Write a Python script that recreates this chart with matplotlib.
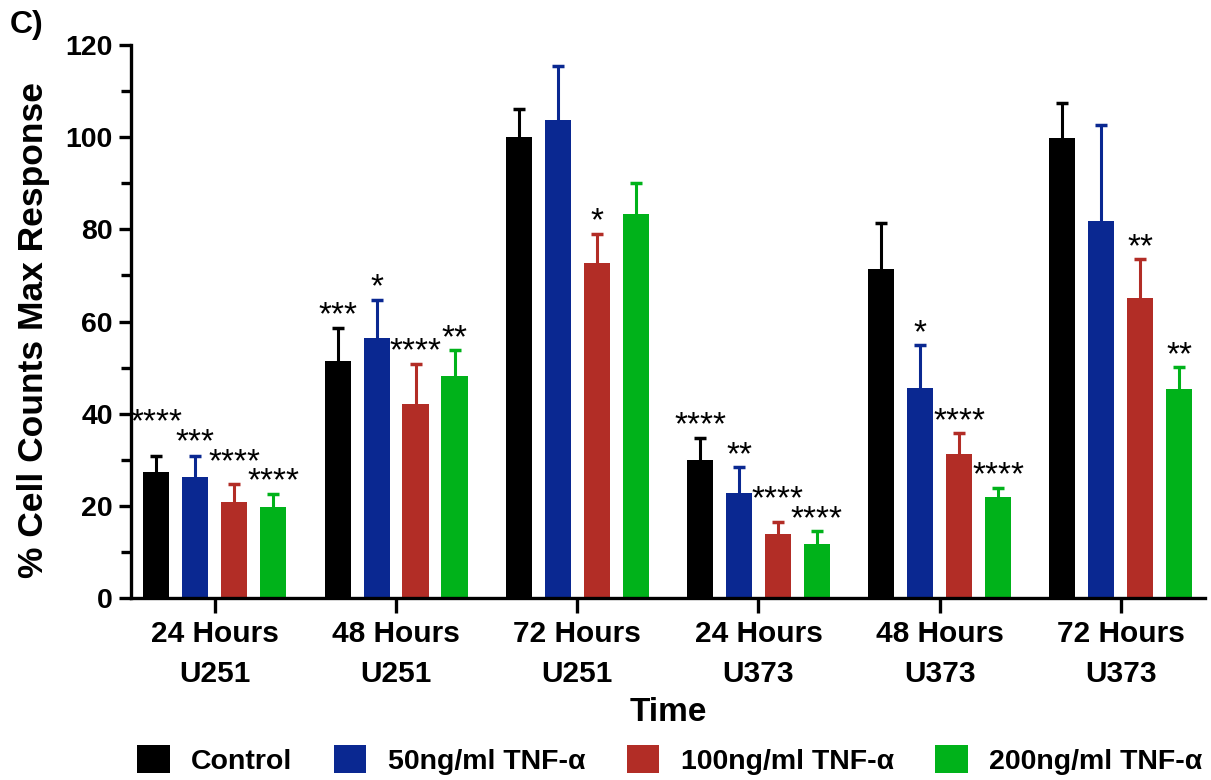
import matplotlib.pyplot as plt
import numpy as np
from matplotlib.ticker import MultipleLocator

plt.rcParams['font.family'] = ['Liberation Sans', 'DejaVu Sans']

# 数据：各组均值与误差（只画上误差）
groups = ['24 Hours\nU251', '48 Hours\nU251', '72 Hours\nU251',
          '24 Hours\nU373', '48 Hours\nU373', '72 Hours\nU373']
series_names = ['Control', '50ng/ml TNF-α', '100ng/ml TNF-α', '200ng/ml TNF-α']
control = [27.3, 51.5, 100.0, 29.9, 71.3, 99.8]
control_err = [3.5, 7.1, 6.1, 4.9, 10.1, 7.7]
tnf50 = [26.3, 56.5, 103.7, 22.8, 45.6, 81.9]
tnf50_err = [4.5, 8.2, 11.8, 5.6, 9.2, 20.7]
tnf100 = [20.8, 42.1, 72.6, 13.9, 31.3, 65.2]
tnf100_err = [3.9, 8.7, 6.4, 2.6, 4.5, 8.3]
tnf200 = [19.8, 48.2, 83.4, 11.7, 22.0, 45.3]
tnf200_err = [2.8, 5.6, 6.7, 2.8, 1.9, 4.8]
stars_control = ['****', '***', '', '****', '', '']
stars_tnf50 = ['***', '*', '', '**', '*', '']
stars_tnf100 = ['****', '****', '*', '****', '****', '**']
stars_tnf200 = ['****', '**', '', '****', '****', '**']

colors = ['#000000', '#0A2891', '#B22D26', '#00B21A']

values = [control, tnf50, tnf100, tnf200]
errors = [control_err, tnf50_err, tnf100_err, tnf200_err]
stars = [stars_control, stars_tnf50, stars_tnf100, stars_tnf200]

fig = plt.figure(figsize=(12.11, 7.8), dpi=100)
ax = fig.add_axes([0.108, 0.2333, 0.887, 0.709])

x = np.arange(len(groups))
pitch = 0.215
width = 0.144
star_off = 0.7    # 星号离误差线顶端的距离
star_step = 4.3   # 相邻星号重叠时抬高的距离

for i in range(4):
    xpos = x + (i - 1.5) * pitch
    ax.bar(xpos, values[i], width=width, color=colors[i], label=series_names[i], zorder=2)
    eb = ax.errorbar(xpos, values[i], yerr=[np.zeros(len(groups)), errors[i]], fmt='none',
                     ecolor=colors[i], elinewidth=2.2, capsize=4.5, capthick=2.5, zorder=1)
    eb[1][0].set_visible(False)  # 去掉下端的帽

# 星号：从右往左放，和右边的重叠就抬高
for j in range(len(groups)):
    prev_y = None
    prev_len = 0
    for i in range(3, -1, -1):
        label = stars[i][j]
        if not label:
            prev_y = None
            continue
        y = values[i][j] + errors[i][j] + star_off
        if prev_y is not None and (len(label) + prev_len) * 0.5 * 0.067 > pitch \
                and abs(y - prev_y) < star_step:
            y = prev_y + star_step
        ax.text(x[j] + (i - 1.5) * pitch, y, label, ha='center', va='baseline', fontsize=24)
        prev_y = y
        prev_len = len(label)

ax.set_xlim(-0.464, len(groups) - 1 + 0.464)
ax.set_ylim(0, 120)
ax.yaxis.set_major_locator(MultipleLocator(20))
ax.yaxis.set_minor_locator(MultipleLocator(10))
ax.set_xticks(x)
ax.set_xticklabels(groups, fontsize=21.5, fontweight='bold', linespacing=1.55)
for lab in ax.get_yticklabels():
    lab.set_fontsize(20.5)
    lab.set_fontweight('bold')

for s in ['top', 'right']:
    ax.spines[s].set_visible(False)
for s in ['left', 'bottom']:
    ax.spines[s].set_linewidth(2.4)
ax.tick_params(axis='y', which='major', length=9, width=2.4, pad=4)
ax.tick_params(axis='y', which='minor', length=7, width=2.4)
ax.tick_params(axis='x', which='major', length=11, width=2.4, pad=5)

ax.set_ylabel('% Cell Counts Max Response', fontsize=25.5, fontweight='bold')
ax.yaxis.set_label_coords(-0.0754, 0.485)
ax.set_xlabel('Time', fontsize=24, fontweight='bold', labelpad=6)

fig.text(0.008, 0.968, 'C)', fontsize=23, fontweight='bold', va='center')

fig.legend(loc='center', bbox_to_anchor=(0.553, 0.026), ncol=4, frameon=False,
           prop={'size': 20.5, 'weight': 'bold'}, handlelength=1.15, handleheight=1.15,
           columnspacing=1.45, handletextpad=0.75)

fig.savefig('out.png', dpi=100)
